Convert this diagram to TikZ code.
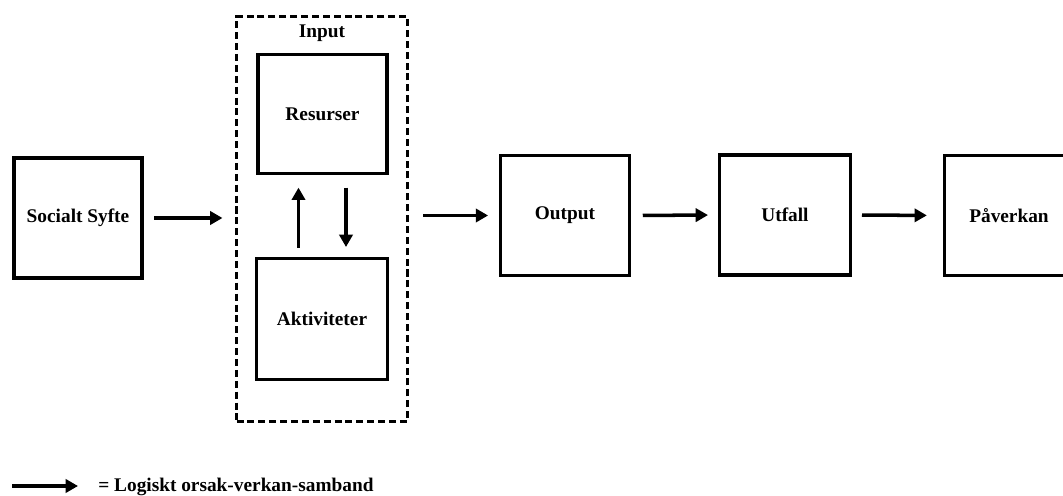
\documentclass[tikz,border=0pt]{standalone}
\usepackage{fontspec}
\setmainfont{Liberation Serif}
\usetikzlibrary{arrows.meta}
\tikzset{
    box/.style={draw, line width=2.1pt, minimum width=2.58cm, minimum height=2.4cm, inner sep=0pt,
        font=\fontsize{11}{13}\selectfont\bfseries},
    flow/.style={line width=2pt, -{Triangle[length=7pt,width=7.5pt]}},
    inputbox/.style={draw, line width=2pt, dash pattern=on 4pt off 2.2pt,
        minimum width=3.42cm, minimum height=8.1cm, inner sep=0pt}
}
\begin{document}
\begin{tikzpicture}[x=0.02cm, y=-0.02cm]
        \useasboundingbox (0,0) rectangle (1063,496);
        \clip (0,0) rectangle (1063,496);
        \node[box, minimum width=2.56cm] (syfte) at (78, 218) {Socialt Syfte};
        \node[inputbox] (input) at (322, 219) {};
        \node[anchor=base, font=\fontsize{11}{13}\selectfont\bfseries] (inlabel) at (322, 38) {Input};
        \node[box, minimum height=2.38cm] (res) at (322.5, 114) {Resurser};
        \node[box, minimum width=2.62cm, minimum height=2.42cm] (akt) at (322, 319) {Aktiviteter};
        \node[box] (out) at (565, 215.5) {Output};
        \node[box, minimum width=2.62cm] (utfall) at (785, 215) {Utfall};
        \node[box] (paverkan) at (1009, 215.5) {Påverkan};
        % orsak-verkan
        \draw[flow, shorten <=6pt, shorten >=7pt] (syfte.east) -- (syfte.east -| input.west);
        \draw[flow, shorten <=8pt, shorten >=6pt] (input.east |- out.west) -- (out.west);
        \draw[flow, shorten <=6.5pt, shorten >=5.5pt] (out.east) -- (utfall.west);
        \draw[flow, shorten <=5.5pt, shorten >=9pt] (utfall.east) -- (paverkan.west);
        % inom input
        \draw[flow, shorten <=5pt, shorten >=7pt] ([xshift=-0.47cm]akt.north) -- ([xshift=-0.47cm]akt.north |- res.south);
        \draw[flow, shorten <=7pt, shorten >=5.5pt] ([xshift=0.47cm]res.south) -- ([xshift=0.47cm]res.south |- akt.north);
        % förklaring
        \coordinate (legA) at (12, 486);
        \coordinate (legB) at (78, 486);
        \draw[flow] (legA) -- (legB);
        \node[anchor=base west, inner sep=0pt, font=\fontsize{11}{13}\selectfont\bfseries] (legtext) at (98, 492) {= Logiskt orsak-verkan-samband};
    \end{tikzpicture}
\end{document}
